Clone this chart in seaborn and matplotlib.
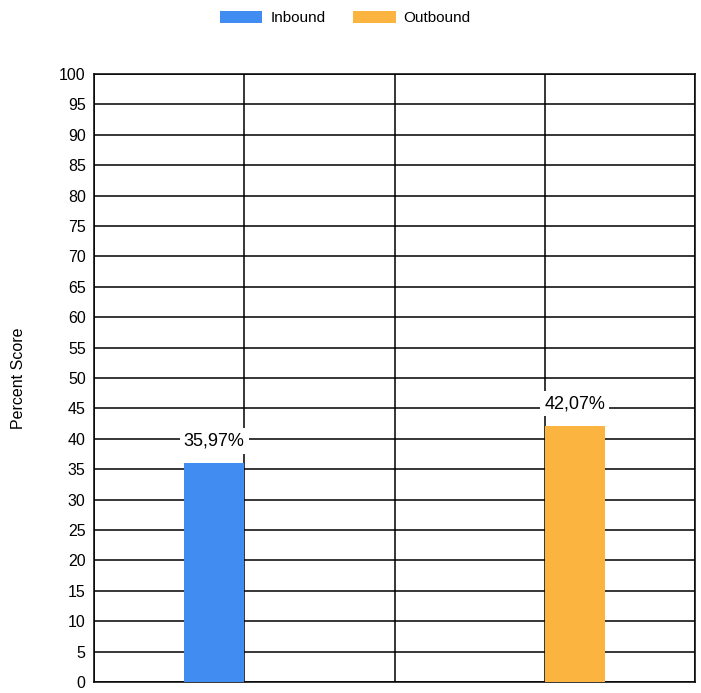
import matplotlib
matplotlib.use("Agg")
import matplotlib.pyplot as plt
import seaborn as sns
import pandas as pd
from matplotlib.patches import Patch

categories = ["Group 1", "Group 2"]
series = ["Inbound", "Outbound"]
series_cat = ["Group 1", "Group 2"]
values = [35.97, 42.07]
colors = ["#418CF0", "#FCB441"]
y_ticks = list(range(0, 101, 5))
y_label = "Percent Score"

df = pd.DataFrame({"cat": series_cat, "series": series, "val": values})

sns.set_style("white")
plt.rcParams["font.family"] = ["Liberation Sans", "DejaVu Sans"]
plt.rcParams["text.color"] = "black"
plt.rcParams["axes.labelcolor"] = "black"
plt.rcParams["xtick.color"] = "black"
plt.rcParams["ytick.color"] = "black"

fig = plt.figure(figsize=(7.01, 6.93), dpi=100)
ax = fig.add_axes([94/701, 1-682/693, (695-94)/701, (682-74)/693])

sns.barplot(data=df, x="cat", y="val", hue="series", order=categories,
            hue_order=series, palette=colors, width=0.4, dodge=True,
            saturation=1, ax=ax, legend=False, zorder=3, edgecolor="none")

ax.set_xlim(-0.5, 1.5)
ax.set_ylim(0, 100)
ax.set_yticks(y_ticks)
ax.set_yticklabels([str(t) for t in y_ticks], fontsize=11.5)
ax.set_xticks([-0.5, 0, 0.5, 1, 1.5])
ax.set_xticklabels([])
ax.set_xlabel("")
ax.set_ylabel(y_label, fontsize=11.5, labelpad=24)
ax.grid(True, color="black", linewidth=1.1, zorder=0)
ax.set_axisbelow(True)
for s in ax.spines.values():
    s.set_color("black")
    s.set_linewidth(1.1)
ax.tick_params(axis="y", direction="out", length=5, width=1.1, color="black", pad=1)
ax.tick_params(axis="x", direction="out", length=8, width=1.1, color="black")

for cont, v in zip(ax.containers, values):
    ax.bar_label(cont, labels=[f"{v:.2f}%".replace(".", ",")], padding=10,
                 fontsize=13, zorder=5, color="black",
                 bbox=dict(facecolor="white", edgecolor="none", pad=3))

handles = [Patch(facecolor=c, edgecolor="none") for c in colors]
fig.legend(handles, series, loc="center", bbox_to_anchor=(345/701, 1-18/693),
           ncol=2, frameon=False, fontsize=11, handlelength=2.8, handleheight=0.8,
           columnspacing=1.8, handletextpad=0.5)

fig.savefig("out.png", dpi=100)
